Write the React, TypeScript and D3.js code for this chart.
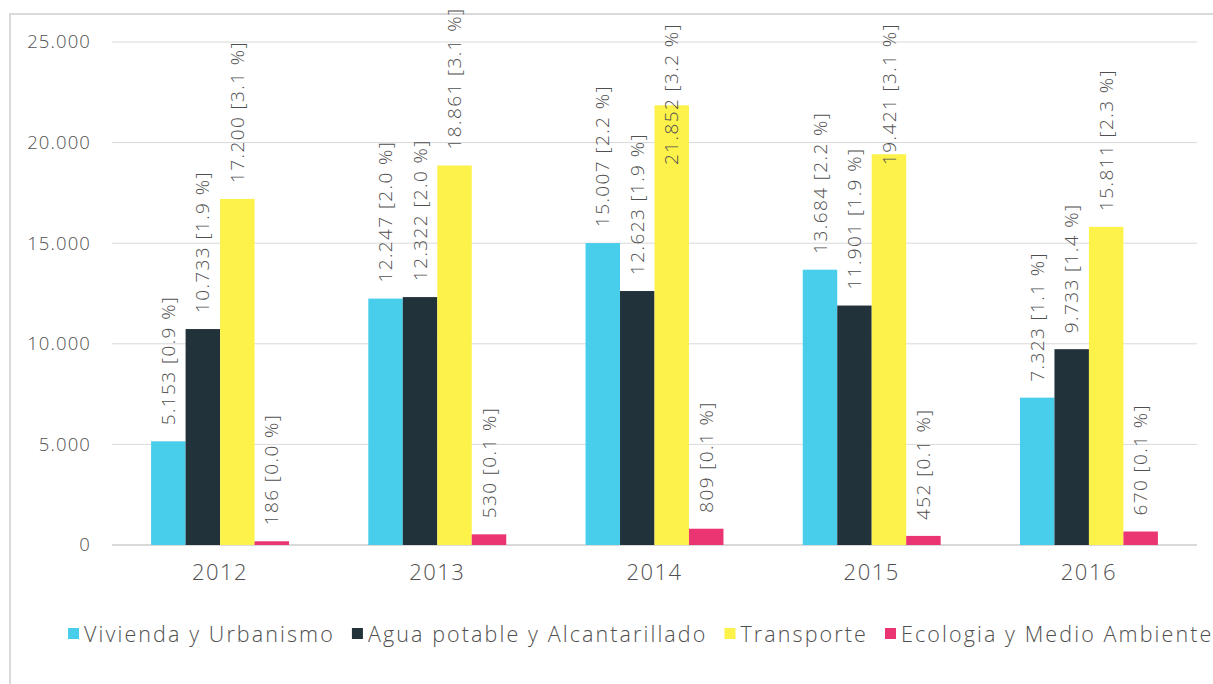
import React, { useEffect, useRef } from "react";
import * as d3 from "d3";

const years = ["2012", "2013", "2014", "2015", "2016"];
const seriesNames = ["Vivienda y Urbanismo", "Agua potable y Alcantarillado", "Transporte", "Ecologia y Medio Ambiente"];
const seriesColors = ["#48cdeb", "#22323b", "#fdf24a", "#eb3573"];
const vivienda = [5153, 12247, 15007, 13684, 7323];
const agua = [10733, 12322, 12623, 11901, 9733];
const transporte = [17200, 18861, 21852, 19421, 15811];
const ecologia = [186, 530, 809, 452, 670];
const viviendaPct = ["0.9", "2.0", "2.2", "2.2", "1.1"];
const aguaPct = ["1.9", "2.0", "1.9", "1.9", "1.4"];
const transportePct = ["3.1", "3.1", "3.2", "3.1", "2.3"];
const ecologiaPct = ["0.0", "0.1", "0.1", "0.1", "0.1"];
const yTicks = [0, 5000, 10000, 15000, 20000, 25000];

const width = 1213,
    height = 684;
const margin = { left: 112, right: 16, top: 42, bottom: 139 };
const font = "'Open Sans', sans-serif";
const weight = 300;
const textColor = "#4f4f4f";

const App = () => {
    const ref = useRef<SVGSVGElement>(null);

    useEffect(() => {
        document.body.style.margin = "0";
        const svg = d3.select(ref.current);
        svg.selectAll("*").remove();

        const values = [vivienda, agua, transporte, ecologia];
        const pcts = [viviendaPct, aguaPct, transportePct, ecologiaPct];
        const loc = d3.formatLocale({ decimal: ",", thousands: ".", grouping: [3], currency: ["", ""] });
        const fmt = loc.format(",d");

        const x0 = d3.scaleBand().domain(years).range([margin.left, width - margin.right]).paddingInner(0.365).paddingOuter(0.18);
        const x1 = d3.scaleBand().domain(seriesNames).range([0, x0.bandwidth()]);
        const y = d3.scaleLinear().domain([0, 25000]).range([height - margin.bottom, margin.top]);

        // outer frame
        svg.append("rect")
            .attr("x", 10).attr("y", 14)
            .attr("width", 1300).attr("height", 800)
            .attr("fill", "none").attr("stroke", "#d9d9d9").attr("stroke-width", 2);

        const grid = svg.append("g");
        grid.selectAll("line")
            .data(yTicks)
            .enter()
            .append("line")
            .attr("x1", margin.left).attr("x2", width - margin.right)
            .attr("y1", (d) => y(d)).attr("y2", (d) => y(d))
            .attr("stroke", "#d9d9d9")
            .attr("stroke-width", (d) => (d === 0 ? 2 : 1));

        svg.append("g")
            .selectAll("text")
            .data(yTicks)
            .enter()
            .append("text")
            .attr("x", 91).attr("y", (d) => y(d))
            .attr("dy", "0.35em")
            .attr("text-anchor", "end")
            .attr("font-family", font).attr("font-size", 18.5).attr("font-weight", weight)
            .attr("letter-spacing", 1.1)
            .attr("fill", textColor)
            .text((d) => fmt(d));

        svg.append("g")
            .selectAll("text")
            .data(years)
            .enter()
            .append("text")
            .attr("x", (d) => x0(d)! + x0.bandwidth() / 2)
            .attr("y", 580)
            .attr("text-anchor", "middle")
            .attr("font-family", font).attr("font-size", 22).attr("font-weight", weight)
            .attr("letter-spacing", 1.5)
            .attr("fill", textColor)
            .text((d) => d);

        seriesNames.forEach((name, s) => {
            const g = svg.append("g");
            g.selectAll("rect")
                .data(years)
                .enter()
                .append("rect")
                .attr("x", (d) => x0(d)! + x1(name)!)
                .attr("y", (d, i) => y(values[s][i]))
                .attr("width", x1.bandwidth())
                .attr("height", (d, i) => y(0) - y(values[s][i]))
                .attr("fill", seriesColors[s]);

            g.selectAll("text")
                .data(years)
                .enter()
                .append("text")
                .attr("font-family", font).attr("font-size", 19).attr("font-weight", weight)
                .attr("letter-spacing", 1.4)
                .attr("fill", textColor)
                .attr("text-anchor", "start")
                .attr("dy", "0.35em")
                .text((d, i) => fmt(values[s][i]) + " [" + pcts[s][i] + " %]")
                .each(function (d, i) {
                    const node = this as SVGTextElement;
                    const len = node.getComputedTextLength();
                    const cx = x0(d)! + x1(name)! + x1.bandwidth() / 2;
                    let start = y(values[s][i]) - 16;
                    if (start - len < 2) start = 23 + len;
                    d3.select(node).attr("transform", "translate(" + cx + "," + start + ") rotate(-90)");
                });
        });

        // legend, items chained left to right
        const legend = svg.append("g");
        let lx = 68;
        seriesNames.forEach((name, s) => {
            legend.append("rect")
                .attr("x", lx).attr("y", 628)
                .attr("width", 11).attr("height", 11)
                .attr("fill", seriesColors[s]);
            const t = legend.append("text")
                .attr("x", lx + 16).attr("y", 634)
                .attr("dy", "0.35em")
                .attr("font-family", font).attr("font-size", 21.5).attr("font-weight", weight)
                .attr("letter-spacing", 2.1)
                .attr("fill", textColor)
                .text(name);
            lx += 16 + (t.node() as SVGTextElement).getComputedTextLength() + 17;
        });
    }, []);

    return <svg ref={ref} width={width} height={height} style={{ display: "block", background: "#fff" }} />;
};

export default App;
